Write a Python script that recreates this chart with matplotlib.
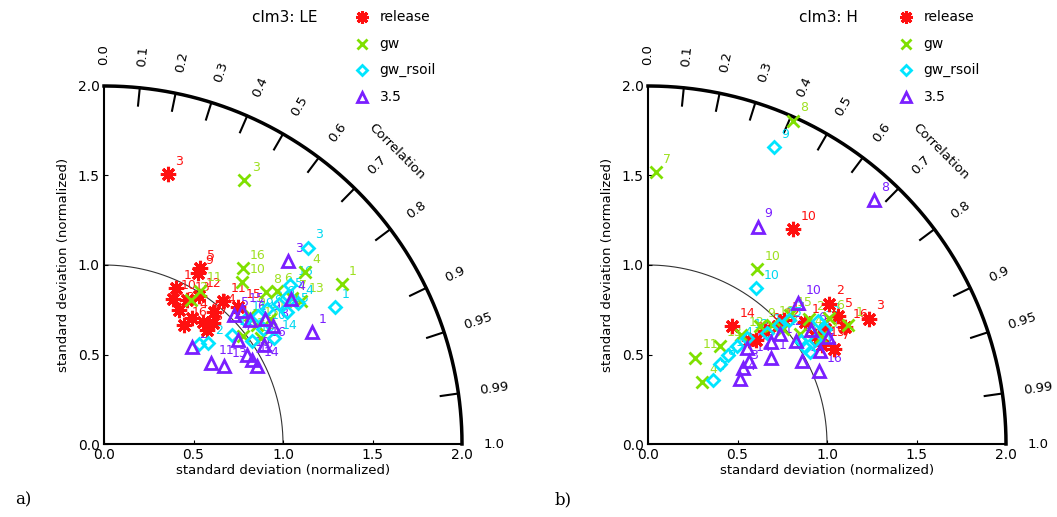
import numpy as np
import matplotlib
matplotlib.use("Agg")
import matplotlib.pyplot as plt

# normalized standard deviation / correlation for each site (1..16)
sites = list(range(1, 17))

le_release_std = [0.96, 0.86, 1.55, 0.86, 1.12, 0.88, 0.91, 0.86, 1.09, 0.90, 1.04, 0.98, 0.93, 0.96, 1.07, 0.80]
le_release_cor = [0.42, 0.49, 0.23, 0.57, 0.48, 0.63, 0.67, 0.67, 0.48, 0.43, 0.64, 0.54, 0.50, 0.64, 0.70, 0.56]
le_gw_std = [1.60, 0.94, 1.67, 1.48, 1.06, 1.29, 1.33, 1.24, 1.09, 1.19, 1.01, 0.98, 1.36, 1.16, 1.08, 1.25]
le_gw_cor = [0.83, 0.52, 0.47, 0.76, 0.83, 0.75, 0.79, 0.73, 0.75, 0.65, 0.53, 0.79, 0.81, 0.80, 0.79, 0.62]
le_rsoil_std = [1.50, 0.81, 1.58, 1.34, 1.32, 1.25, 0.77, 1.18, 1.12, 1.10, 1.05, 0.94, 1.01, 1.12, 1.26, 1.37]
le_rsoil_cor = [0.86, 0.72, 0.72, 0.81, 0.78, 0.78, 0.69, 0.77, 0.77, 0.81, 0.75, 0.76, 0.82, 0.85, 0.81, 0.76]
le_35_std = [1.32, 0.73, 1.45, 1.32, 1.02, 1.07, 0.95, 1.15, 1.14, 0.94, 0.75, 0.95, 0.80, 0.96, 1.07, 1.05]
le_35_cor = [0.88, 0.67, 0.71, 0.79, 0.71, 0.76, 0.79, 0.82, 0.79, 0.85, 0.80, 0.87, 0.84, 0.89, 0.72, 0.85]

h_release_std = [1.11, 1.28, 1.42, 0.84, 1.28, 1.18, 1.17, 1.11, 0.91, 1.45, 1.03, 0.98, 0.81, 0.81, 1.12, 1.28]
h_release_cor = [0.79, 0.79, 0.87, 0.72, 0.83, 0.84, 0.89, 0.84, 0.72, 0.56, 0.74, 0.74, 0.70, 0.58, 0.87, 0.86]
h_gw_std = [1.30, 1.14, 1.14, 0.46, 0.99, 1.23, 1.52, 1.98, 0.91, 1.15, 0.55, 0.80, 0.68, 1.05, 1.07, 0.96]
h_gw_cor = [0.86, 0.79, 0.85, 0.66, 0.76, 0.82, 0.03, 0.41, 0.69, 0.53, 0.48, 0.65, 0.59, 0.81, 0.74, 0.72]
h_rsoil_std = [1.18, 1.05, 1.10, 0.74, 1.03, 1.03, 0.51, 0.60, 1.80, 1.06, 0.67, 0.81, 0.91, 1.04, 0.99, 1.17]
h_rsoil_cor = [0.84, 0.75, 0.85, 0.67, 0.85, 0.83, 0.71, 0.67, 0.39, 0.57, 0.67, 0.68, 0.73, 0.87, 0.74, 0.81]
h_35_std = [0.84, 1.01, 0.68, 0.63, 1.17, 1.11, 1.09, 1.86, 1.36, 1.15, 0.89, 0.96, 0.77, 0.73, 0.98, 1.04]
h_35_cor = [0.82, 0.82, 0.78, 0.82, 0.86, 0.82, 0.88, 0.68, 0.45, 0.73, 0.77, 0.77, 0.72, 0.77, 0.88, 0.92]

run_names = ["release", "gw", "gw_rsoil", "3.5"]
corr_ticks = [0.0, 0.1, 0.2, 0.3, 0.4, 0.5, 0.6, 0.7, 0.8, 0.9, 0.95, 0.99, 1.0]

# marker styles per run
styles = [
    dict(marker=(8, 2, 0), ms=11, mew=2.2, color="#ff1010", mfc="#ff1010", lab="#ff1010"),
    dict(marker="x", ms=9, mew=2.0, color="#7fe000", mfc="none", lab="#9ee020"),
    dict(marker="D", ms=6.5, mew=2.0, color="#00e5ff", mfc="none", lab="#00d8f0"),
    dict(marker="^", ms=9, mew=2.0, color="#7a1fff", mfc="none", lab="#7a1fff"),
]


def taylor(ax, title, runs):
    ax.set_xlim(0, 2)
    ax.set_ylim(0, 2)
    ax.set_aspect("equal")
    for s in ["top", "right"]:
        ax.spines[s].set_visible(False)
    for s in ["left", "bottom"]:
        ax.spines[s].set_linewidth(1.5)
    ax.set_xticks([0, 0.5, 1, 1.5, 2])
    ax.set_yticks([0, 0.5, 1, 1.5, 2])
    ax.set_xticklabels(["0.0", "0.5", "1.0", "1.5", "2.0"])
    ax.set_yticklabels(["0.0", "0.5", "1.0", "1.5", "2.0"])
    ax.tick_params(direction="in", length=3, labelsize=10, pad=3)
    ax.set_xlabel("standard deviation (normalized)", fontsize=9.5, labelpad=1)
    ax.set_ylabel("standard deviation (normalized)", fontsize=9.5, labelpad=6)

    th = np.linspace(0, np.pi / 2, 200)
    ax.plot(2 * np.cos(th), 2 * np.sin(th), color="k", lw=2.5, clip_on=False, zorder=3)
    ax.plot(np.cos(th), np.sin(th), color="#333333", lw=0.8, zorder=1)

    # correlation ticks and labels
    for c in corr_ticks:
        a = np.arccos(c)
        if 0 < c < 1:
            ax.plot([1.9 * np.cos(a), 2 * np.cos(a)], [1.9 * np.sin(a), 2 * np.sin(a)],
                    color="k", lw=1.5, clip_on=False)
        ax.text(2.12 * np.cos(a), 2.12 * np.sin(a), f"{c:g}" if c not in (0.0, 1.0) else f"{c:.1f}",
                rotation=np.degrees(a), rotation_mode="anchor", ha="left", va="center",
                fontsize=9.5, clip_on=False)
    a = np.radians(45)
    ax.text(2.31 * np.cos(a), 2.31 * np.sin(a), "Correlation", rotation=-45,
            ha="center", va="center", fontsize=9.5)

    for (std, cor), name, st in zip(runs, run_names, styles):
        std = np.array(std)
        cor = np.array(cor)
        x = std * cor
        y = std * np.sqrt(1 - cor ** 2)
        ax.plot(x, y, ls="none", marker=st["marker"], ms=st["ms"], mew=st["mew"],
                mec=st["color"], mfc=st["mfc"], clip_on=False, zorder=4)
        for xi, yi, n in zip(x, y, sites):
            ax.text(xi + 0.04, yi + 0.035, str(n), color=st["lab"], fontsize=9,
                    ha="left", va="bottom", zorder=3.5)

    ax.text(1.01, 2.385, title, ha="center", va="center", fontsize=11)
    for i, (name, st) in enumerate(zip(run_names, styles)):
        ly = 2.385 - i * 0.148
        ax.plot([1.44], [ly], ls="none", marker=st["marker"], ms=st["ms"] * 0.85,
                mew=st["mew"], mec=st["color"], mfc=st["mfc"], clip_on=False)
        ax.text(1.54, ly, name, ha="left", va="center", fontsize=10)


fig = plt.figure(figsize=(10.57, 5.17), dpi=100)
ax1 = fig.add_axes([104 / 1057, 73 / 517, 358 / 1057, 358 / 517])
ax2 = fig.add_axes([648 / 1057, 73 / 517, 358 / 1057, 358 / 517])

taylor(ax1, "clm3: LE", [(le_release_std, le_release_cor), (le_gw_std, le_gw_cor),
                         (le_rsoil_std, le_rsoil_cor), (le_35_std, le_35_cor)])
taylor(ax2, "clm3: H", [(h_release_std, h_release_cor), (h_gw_std, h_gw_cor),
                        (h_rsoil_std, h_rsoil_cor), (h_35_std, h_35_cor)])

fig.text(15 / 1057, 1 - 500 / 517, "a)", family="DejaVu Serif", fontsize=12, va="center")
fig.text(555 / 1057, 1 - 500 / 517, "b)", family="DejaVu Serif", fontsize=12, va="center")

fig.savefig("out.png", dpi=100)
